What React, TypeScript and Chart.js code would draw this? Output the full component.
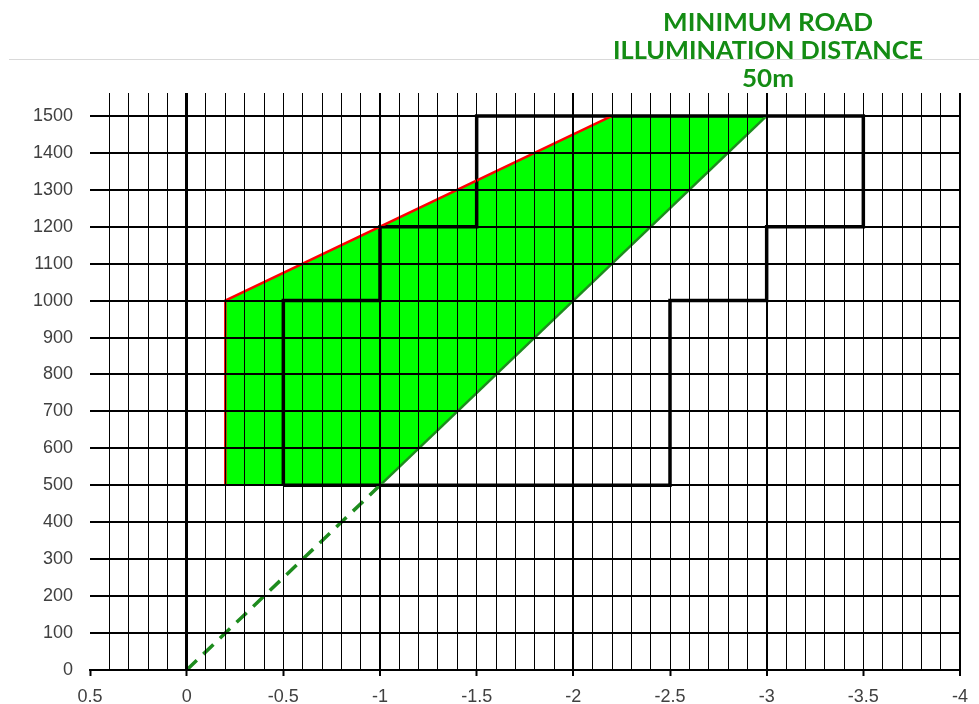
import React, { useEffect, useRef } from "react";
import { Chart, registerables } from "chart.js";
Chart.register(...registerables);

// Axis ticks
const xLabelValues = [0.5, 0, -0.5, -1, -1.5, -2, -2.5, -3, -3.5, -4];
const xMinorStep = 0.1;
const yTickValues = [0, 100, 200, 300, 400, 500, 600, 700, 800, 900, 1000, 1100, 1200, 1300, 1400, 1500];

// Green illuminated area
const fillX = [-0.2, -0.2, -2.2, -3, -1, -0.2];
const fillY = [500, 1000, 1500, 1500, 500, 500];
// Red boundary
const redX = [-0.2, -0.2, -2.2];
const redY = [500, 1000, 1500];
// Green diagonal boundary
const diagX = [-1, -3];
const diagY = [500, 1500];
// Dashed extension
const dashX = [0, -1];
const dashY = [0, 500];
// Black stepped zone
const zoneX = [-0.5, -0.5, -1, -1, -1.5, -1.5, -3.5, -3.5, -3, -3, -2.5, -2.5, -0.5];
const zoneY = [500, 1000, 1000, 1200, 1200, 1500, 1500, 1200, 1200, 1000, 1000, 500, 500];

const titleLines = ["MINIMUM ROAD", "ILLUMINATION DISTANCE", "50m"];

const pts = (xs: number[], ys: number[]) => xs.map((x, i) => ({ x, y: ys[i] }));
const isMajor = (v: number) => Math.abs(v * 2 - Math.round(v * 2)) < 1e-6;
const isInt = (v: number) => Math.abs(v - Math.round(v)) < 1e-6;

const titlePlugin = {
  id: "slideTitle",
  afterDraw(chart: any) {
    const ctx = chart.ctx;
    ctx.save();
    ctx.strokeStyle = "#d9d9d9";
    ctx.lineWidth = 1;
    ctx.beginPath();
    ctx.moveTo(9, 59.5);
    ctx.lineTo(979, 59.5);
    ctx.stroke();
    ctx.fillStyle = "#148c14";
    ctx.font = "bold 25px Lato, 'Open Sans', sans-serif";
    ctx.textAlign = "center";
    ctx.textBaseline = "alphabetic";
    const widths = [210, 310, 52];
    const baselines = [31, 59, 87];
    titleLines.forEach((t, i) => {
      const m = ctx.measureText(t).width;
      ctx.save();
      ctx.translate(768, baselines[i]);
      ctx.scale(widths[i] / m, 1);
      ctx.fillText(t, 0, 0);
      ctx.restore();
    });
    ctx.restore();
  },
};

export default function App() {
  const ref = useRef<HTMLCanvasElement>(null);
  useEffect(() => {
    if (!ref.current) return;
    const tickFont = { family: "'Liberation Sans', Arial, sans-serif", size: 18 };
    const chart = new Chart(ref.current, {
      type: "scatter",
      data: {
        datasets: [
          {
            data: pts(fillX, fillY),
            showLine: true,
            fill: "shape",
            backgroundColor: "#00ff00",
            borderWidth: 0,
            borderColor: "rgba(0,0,0,0)",
            pointRadius: 0,
            order: 10,
          } as any,
          {
            data: pts(zoneX, zoneY),
            showLine: true,
            fill: false,
            borderColor: "#000000",
            borderWidth: 3.5,
            borderJoinStyle: "miter",
            pointRadius: 0,
            order: 9,
          },
          {
            data: pts(redX, redY),
            showLine: true,
            fill: false,
            borderColor: "#ff0000",
            borderWidth: 2.5,
            pointRadius: 0,
            order: 8,
          },
          {
            data: pts(diagX, diagY),
            showLine: true,
            fill: false,
            borderColor: "#1e8c1e",
            borderWidth: 2.5,
            pointRadius: 0,
            order: 7,
          },
          {
            data: pts(dashX, dashY),
            showLine: true,
            fill: false,
            borderColor: "#1e8c1e",
            borderWidth: 3.5,
            borderDash: [14, 9],
            pointRadius: 0,
            order: 6,
          },
        ],
      },
      options: {
        responsive: false,
        animation: false,
        layout: { padding: { top: 93, right: 19, left: 0, bottom: 0 } },
        plugins: { legend: { display: false }, tooltip: { enabled: false } },
        scales: {
          x: {
            type: "linear",
            reverse: true,
            min: -4,
            max: 0.5,
            afterBuildTicks: (scale: any) => {
              const ticks: any[] = [];
              const n = Math.round((xLabelValues[0] - xLabelValues[xLabelValues.length - 1]) / xMinorStep);
              for (let i = 0; i <= n; i++) {
                const v = Math.round((xLabelValues[0] - i * xMinorStep) * 10) / 10;
                ticks.push({ value: v === 0 ? 0 : v });
              }
              scale.ticks = ticks;
            },
            afterFit: (scale: any) => {
              scale.height = 34;
            },
            ticks: {
              autoSkip: false,
              maxRotation: 0,
              minRotation: 0,
              padding: 10,
              color: "#404040",
              font: tickFont,
              callback: (v: any) => (isMajor(Number(v)) ? String(Number(v) === 0 ? 0 : Number(v)) : ""),
            },
            grid: {
              z: 1,
              drawTicks: true,
              tickLength: 6,
              color: (c: any) => (c.tick && Math.abs(c.tick.value - 0.5) < 1e-6 ? "rgba(0,0,0,0)" : "#000000"),
              lineWidth: (c: any) => {
                const v = c.tick ? c.tick.value : 1;
                if (Math.abs(v) < 1e-6) return 3;
                if (isInt(v)) return 2;
                return 1;
              },
              tickColor: (c: any) => (c.tick && isMajor(c.tick.value) ? "#000000" : "rgba(0,0,0,0)"),
              tickWidth: 2,
            },
            border: { display: true, color: "#000000", width: 2, z: 1 },
          },
          y: {
            type: "linear",
            min: 0,
            max: 1562,
            afterBuildTicks: (scale: any) => {
              scale.ticks = yTickValues.map((v) => ({ value: v }));
            },
            afterFit: (scale: any) => {
              scale.width = 90;
            },
            ticks: {
              padding: 17,
              color: "#404040",
              font: tickFont,
              callback: (v: any) => String(v),
            },
            grid: {
              z: 1,
              drawTicks: false,
              color: "#000000",
              lineWidth: 2,
            },
            border: { display: false },
          },
        },
      },
      plugins: [titlePlugin],
    } as any);
    return () => chart.destroy();
  }, []);
  return (
    <div style={{ position: "fixed", left: 0, top: 0, width: 979, height: 704, background: "#ffffff" }}>
      <canvas ref={ref} width={979} height={704} style={{ width: 979, height: 704, display: "block" }} />
    </div>
  );
}
